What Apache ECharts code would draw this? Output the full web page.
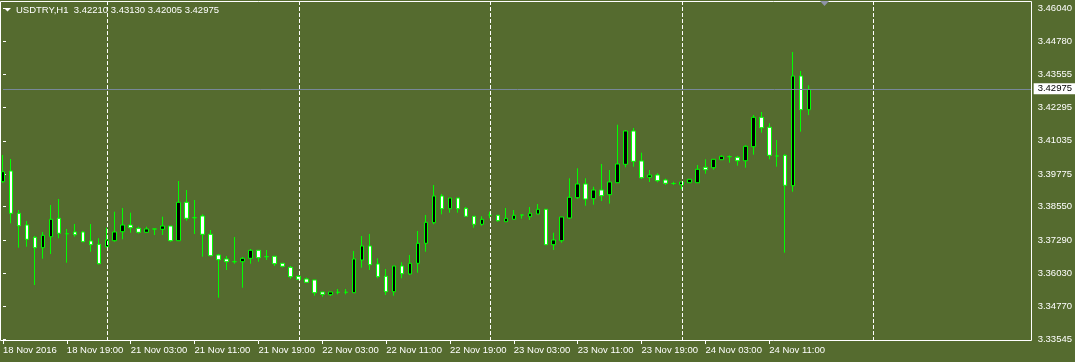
<!DOCTYPE html>
<html>
<head>
<meta charset="utf-8">
<script src="https://cdn.jsdelivr.net/npm/echarts@6/dist/echarts.min.js"></script>
<style>
html,body{margin:0;padding:0;background:#556B2F;}
#c{width:1075px;height:362px;}
</style>
</head>
<body>
<div id="c"></div>
<script>
const symbol = 'USDTRY,H1';
const open = [3.39489,3.39893,3.38295,3.37853,3.37388,3.36996,3.37411,3.38106,3.37524,3.37589,
3.37589,3.37249,3.37124,3.37033,3.37260,3.37600,3.37853,3.37728,3.37577,3.37702,
3.37691,3.37815,3.37260,3.38711,3.38129,3.38193,3.37502,3.36720,3.36569,3.36467,
3.36467,3.36595,3.36897,3.36656,3.36671,3.36406,3.36255,3.35915,3.35813,3.35775,
3.35322,3.35220,3.35311,3.35311,3.35295,3.36531,3.37060,3.36380,3.35915,3.35333,
3.36304,3.36002,3.36406,3.37162,3.37940,3.38949,3.38469,3.38873,3.38484,3.38182,
3.37880,3.38231,3.38220,3.37978,3.38068,3.38231,3.38167,3.38269,3.38446,3.37109,
3.37260,3.38118,3.38885,3.39402,3.38847,3.39175,3.38998,3.39451,3.40146,3.41404,
3.40271,3.39655,3.39742,3.39553,3.39421,3.39376,3.39451,3.39451,3.40033,3.40018,
3.40320,3.40434,3.40411,3.40282,3.40811,3.41922,3.41544,3.40460,3.40486,3.39338,
3.43482,3.42210];
const high = [3.40498,3.40347,3.38420,3.38004,3.37438,3.37589,3.38609,3.38835,3.37702,3.37891,
3.37626,3.37891,3.37351,3.37751,3.38356,3.38495,3.38318,3.37789,3.37789,3.37702,
3.38167,3.37815,3.39515,3.39175,3.38798,3.38257,3.37664,3.36758,3.36682,3.37400,
3.36644,3.36946,3.36897,3.36909,3.36682,3.36418,3.36304,3.35945,3.35862,3.35775,
3.35322,3.35322,3.35435,3.35435,3.36871,3.37438,3.37513,3.36595,3.36191,3.36304,
3.36444,3.36720,3.37626,3.38231,3.39364,3.39024,3.38873,3.38873,3.38533,3.38182,
3.38182,3.38356,3.38220,3.38495,3.38420,3.38231,3.38533,3.38647,3.38446,3.37562,
3.38155,3.39617,3.39995,3.39617,3.39300,3.40158,3.39931,3.41642,3.41442,3.41518,
3.40585,3.39931,3.39806,3.39602,3.39489,3.39478,3.39580,3.40120,3.40335,3.40335,
3.40486,3.40486,3.40460,3.40864,3.42009,3.42122,3.41695,3.41064,3.40524,3.44389,
3.43671,3.43130];
const low = [3.39440,3.37917,3.36996,3.37033,3.35586,3.36580,3.36758,3.37351,3.36429,3.37411,
3.37211,3.36844,3.36361,3.37003,3.37222,3.37313,3.37562,3.37532,3.37577,3.37475,
3.37475,3.37222,3.37260,3.38016,3.37513,3.36656,3.36693,3.35107,3.36153,3.36391,
3.35484,3.36391,3.36467,3.36531,3.36304,3.36255,3.35824,3.35775,3.35688,3.35182,
3.35144,3.35171,3.35235,3.35235,3.35295,3.36240,3.36153,3.35839,3.35209,3.35182,
3.35839,3.35964,3.36051,3.36844,3.37880,3.38257,3.38318,3.38318,3.38182,3.37751,
3.37827,3.38106,3.37978,3.37978,3.38068,3.38091,3.38042,3.38269,3.37109,3.36909,
3.37184,3.38080,3.38835,3.38582,3.38620,3.38760,3.38658,3.39451,3.40033,3.40056,
3.39591,3.39478,3.39466,3.39364,3.39364,3.39202,3.39451,3.39451,3.39791,3.39942,
3.40320,3.40207,3.40094,3.40018,3.40509,3.41340,3.40335,3.40056,3.36807,3.39111,
3.41378,3.42005];
const close = [3.39867,3.38295,3.37827,3.37313,3.36996,3.37464,3.38068,3.37540,3.37524,3.37487,
3.37222,3.37109,3.36391,3.37286,3.37589,3.37853,3.37751,3.37577,3.37702,3.37702,
3.37815,3.37260,3.38711,3.38106,3.38129,3.37502,3.36693,3.36542,3.36467,3.36467,
3.36595,3.36897,3.36618,3.36656,3.36391,3.36293,3.35900,3.35802,3.35688,3.35295,
3.35235,3.35322,3.35311,3.35311,3.36569,3.37060,3.36353,3.35900,3.35333,3.36304,
3.36013,3.36406,3.37162,3.37955,3.38949,3.38469,3.38873,3.38469,3.38182,3.37880,
3.38068,3.38231,3.38016,3.38106,3.38220,3.38231,3.38295,3.38446,3.37109,3.37286,
3.38155,3.38900,3.39402,3.38835,3.39175,3.38960,3.39478,3.40158,3.41404,3.40260,
3.39640,3.39742,3.39527,3.39429,3.39421,3.39478,3.39580,3.39957,3.39942,3.40335,
3.40449,3.40434,3.40282,3.40826,3.41922,3.41529,3.40486,3.40460,3.39353,3.43482,
3.42209,3.42975];
const tickLabels = ['18 Nov 2016','18 Nov 19:00','21 Nov 03:00','21 Nov 11:00','21 Nov 19:00',
'22 Nov 03:00','22 Nov 11:00','22 Nov 19:00','23 Nov 03:00','23 Nov 11:00','23 Nov 19:00',
'24 Nov 03:00','24 Nov 11:00'];
const tickBars = [0,8,16,24,32,40,48,56,64,72,80,88,96];
const priceTicks = [3.33545,3.34770,3.36030,3.37290,3.38550,3.39775,3.41035,3.42295,3.43555,3.44780,3.46040];
const daySeparators = [13,37,61,85,109];

const FONT = "'Liberation Sans', Arial, sans-serif";
const FS = 9.5;
const last = open.length - 1;
const bid = close[last];
const data = open.map((o, i) => [i, o, close[i], low[i], high[i]]);

const chart = echarts.init(document.getElementById('c'), null, {renderer: 'canvas'});
chart.setOption({
  backgroundColor: '#556B2F',
  animation: false,
  title: {
    text: symbol + '  ' + [open[last], high[last], low[last], close[last]].map(v => v.toFixed(5)).join(' '),
    left: 16, top: 5, padding: 0,
    textStyle: {color: '#ffffff', fontSize: FS, fontWeight: 'normal', fontFamily: FONT}
  },
  grid: {left: 1, top: 1, width: 1031, height: 340, show: false},
  xAxis: {
    type: 'value', min: 0, max: 1031 / 8,
    axisLine: {show: false}, splitLine: {show: false},
    axisTick: {show: true, customValues: tickBars, length: 3, lineStyle: {color: '#ffffff'}},
    axisLabel: {
      customValues: tickBars,
      formatter: v => tickLabels[tickBars.indexOf(Math.round(v))] || '',
      align: 'left', margin: 4, color: '#ffffff', fontSize: FS, fontFamily: FONT
    }
  },
  yAxis: {
    type: 'value', position: 'right', min: 3.334706, max: 3.463158,
    axisLine: {show: false}, splitLine: {show: false},
    axisTick: {show: true, customValues: priceTicks, length: 3, lineStyle: {color: '#ffffff'}},
    axisLabel: {
      customValues: priceTicks, formatter: v => v.toFixed(5),
      margin: 6, color: '#ffffff', fontSize: FS, fontFamily: FONT
    }
  },
  series: [{
    type: 'candlestick',
    data: data,
    encode: {x: 0, y: [1, 2, 3, 4]},
    barWidth: 4,
    clip: false,
    itemStyle: {
      color: '#000000', color0: '#ffffff',
      borderColor: '#00ff00', borderColor0: '#00ff00', borderColorDoji: '#00ff00',
      borderWidth: 1
    },
    markLine: {
      silent: true, animation: false, symbol: ['none', 'none'],
      emphasis: {disabled: true},
      data: daySeparators.map(s => ({
        xAxis: s + 1 / 16,
        lineStyle: {color: '#ffffff', type: [4, 2], width: 1},
        label: {show: false}
      })).concat([{
        yAxis: bid,
        lineStyle: {color: '#778899', type: 'solid', width: 1},
        label: {
          show: true, position: 'end', distance: 2,
          formatter: bid.toFixed(5),
          color: '#000000', backgroundColor: '#ffffff',
          padding: [1, 6, 0, 4], fontSize: FS, fontFamily: FONT
        }
      }])
    }
  }],
  graphic: [
    {type: 'rect', silent: true, z: 100,
     shape: {x: 0.5, y: 1.5, width: 1031, height: 339},
     style: {fill: 'none', stroke: '#ffffff', lineWidth: 1}},
    {type: 'polygon', silent: true, z: 100,
     shape: {points: [[4, 8], [11, 8], [7.5, 11.5]]},
     style: {fill: '#ffffff'}},
    {type: 'polygon', silent: true, z: 100,
     shape: {points: [[820, 1], [829, 1], [824.5, 6]]},
     style: {fill: '#8e93a6'}}
  ]
});
</script>
</body>
</html>
